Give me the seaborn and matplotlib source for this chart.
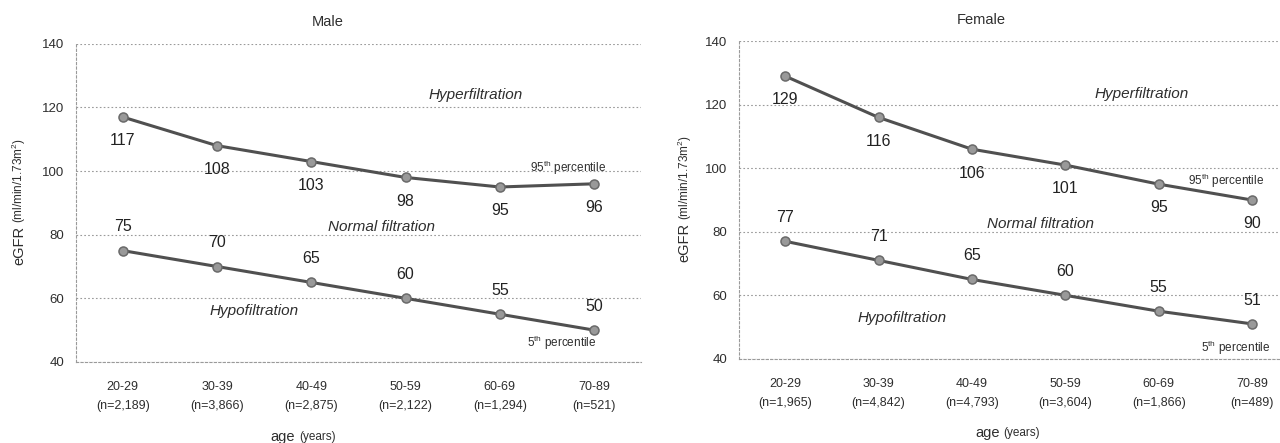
import matplotlib
matplotlib.use("Agg")
import matplotlib.pyplot as plt
import numpy as np
import pandas as pd
import seaborn as sns

# data
age_groups = ['20-29', '30-39', '40-49', '50-59', '60-69', '70-89']
male_n = ['2,189', '3,866', '2,875', '2,122', '1,294', '521']
female_n = ['1,965', '4,842', '4,793', '3,604', '1,866', '489']
male_p95 = [117, 108, 103, 98, 95, 96]
male_p5 = [75, 70, 65, 60, 55, 50]
female_p95 = [129, 116, 106, 101, 95, 90]
female_p5 = [77, 71, 65, 60, 55, 51]

sns.set_theme(style='white')
plt.rcParams['font.family'] = ['Liberation Sans', 'DejaVu Sans']
plt.rcParams['mathtext.fontset'] = 'custom'
plt.rcParams['mathtext.rm'] = 'Liberation Sans'
plt.rcParams['mathtext.it'] = 'Liberation Sans:italic'

TXT = '#2e2e2e'
LINE = '#505050'
GRID = '#9a9a9a'


def draw_panel(ax, title, n_list, p95, p5, notes, xmax, title_x, age_x):
    x = np.arange(len(age_groups))
    df = pd.DataFrame({'x': np.concatenate([x, x]),
                       'eGFR': p95 + p5,
                       'pct': ['95'] * len(x) + ['5'] * len(x)})
    sns.lineplot(data=df, x='x', y='eGFR', units='pct', estimator=None,
                 color=LINE, lw=2.2, marker='o', markersize=6.5,
                 markerfacecolor='#999999', markeredgecolor='#6a6a6a',
                 markeredgewidth=1.1, ax=ax, zorder=3)

    for xi, v in zip(x, p95):
        ax.text(xi, v - 7.5, str(v), ha='center', va='center',
                fontsize=11.5, color='#222222')
    for xi, v in zip(x, p5):
        ax.text(xi, v + 7.5, str(v), ha='center', va='center',
                fontsize=11.5, color='#222222')

    for (tx, ty, s, size, style) in notes:
        ax.text(tx, ty, s, ha='center', va='center', fontsize=size,
                style=style, color=TXT)

    ax.set_xlim(-0.5, xmax)
    ax.set_ylim(40, 140)
    ax.set_yticks([40, 60, 80, 100, 120, 140])
    ax.set_xticks(x)
    ax.set_xticklabels([f'{a}\n(n={n})' for a, n in zip(age_groups, n_list)],
                       fontsize=9, color=TXT, linespacing=1.75)
    ax.tick_params(axis='y', labelsize=9.5, colors=TXT, length=0, pad=8)
    ax.tick_params(axis='x', length=0, pad=14)
    ax.set_xlabel('')
    ax.set_ylabel('')
    ax.grid(axis='y', ls=(0, (1.5, 2)), color=GRID, lw=0.8)
    for side in ['top', 'right']:
        ax.spines[side].set_visible(False)
    for side in ['left', 'bottom']:
        ax.spines[side].set_linestyle((0, (2, 2)))
        ax.spines[side].set_color(GRID)
        ax.spines[side].set_linewidth(0.8)

    ax.text(title_x, 1.068, title, transform=ax.get_xaxis_transform(),
            ha='center', va='center', fontsize=10.5, color=TXT)
    ax.text(-0.1, 0.365, 'eGFR', transform=ax.transAxes, rotation=90,
            ha='center', va='center', fontsize=10.5, color=TXT)
    ax.text(-0.1, 0.57, '(ml/min/1.73m$^{2}$)', transform=ax.transAxes,
            rotation=90, ha='center', va='center', fontsize=8.5, color=TXT)
    ax.text(age_x, -0.235, 'age', transform=ax.get_xaxis_transform(),
            ha='right', va='center', fontsize=10.5, color=TXT)
    ax.text(age_x + 0.04, -0.235, '(years)', transform=ax.get_xaxis_transform(),
            ha='left', va='center', fontsize=8.5, color=TXT)


fig = plt.figure(figsize=(12.8, 4.43), dpi=100)
ax_m = fig.add_axes([0.059, 0.183, 0.442, 0.718])
ax_f = fig.add_axes([0.577, 0.19, 0.423, 0.717])

male_notes = [
    (3.74, 124, 'Hyperfiltration', 11, 'italic'),
    (4.72, 101, '95$^{\\mathrm{th}}$ percentile', 8.5, 'normal'),
    (2.74, 82.5, 'Normal filtration', 11, 'italic'),
    (1.39, 56, 'Hypofiltration', 11, 'italic'),
    (4.66, 46, '5$^{\\mathrm{th}}$ percentile', 8.5, 'normal'),
]
female_notes = [
    (3.82, 123.5, 'Hyperfiltration', 11, 'italic'),
    (4.72, 96, '95$^{\\mathrm{th}}$ percentile', 8.5, 'normal'),
    (2.73, 82.6, 'Normal filtration', 11, 'italic'),
    (1.25, 53, 'Hypofiltration', 11, 'italic'),
    (4.83, 43.5, '5$^{\\mathrm{th}}$ percentile', 8.5, 'normal'),
]

draw_panel(ax_m, 'Male', male_n, male_p95, male_p5, male_notes, 5.5, 2.17, 1.83)
draw_panel(ax_f, 'Female', female_n, female_p95, female_p5, female_notes, 5.3, 2.1, 2.3)

fig.savefig('out.png', dpi=100)
plt.close(fig)
